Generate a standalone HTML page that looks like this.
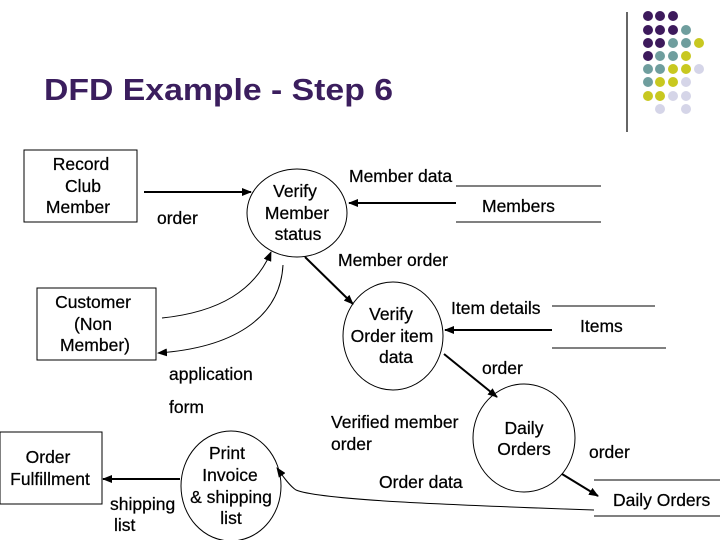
<!DOCTYPE html>
<html><head><style>
body{margin:0;background:#fff;}
svg{display:block;font-family:"Liberation Sans",Arial,sans-serif;}
text{font-size:17.5px;fill:#000;stroke:#000;stroke-width:0.25;}
</style></head><body>
<svg width="720" height="540" viewBox="0 0 720 540" xmlns="http://www.w3.org/2000/svg">
<defs><marker id="a" markerWidth="10" markerHeight="8" refX="9" refY="4" orient="auto" markerUnits="userSpaceOnUse"><path d="M0,0 L10,4 L0,8 Z" fill="#000"/></marker></defs>
<text x="44" y="100" textLength="349" lengthAdjust="spacingAndGlyphs" style="font-size:31px;font-weight:bold;fill:#3b1e5e;stroke:none">DFD Example - Step 6</text>
<line x1="627" y1="12" x2="627" y2="132" stroke="#000" stroke-width="1.2"/>
<g>
<circle cx="648" cy="16" r="5" fill="#3d1a5c"/><circle cx="660" cy="16" r="5" fill="#3d1a5c"/><circle cx="673" cy="16" r="5" fill="#3d1a5c"/>
<circle cx="648" cy="30" r="5" fill="#3d1a5c"/><circle cx="660" cy="30" r="5" fill="#3d1a5c"/><circle cx="673" cy="30" r="5" fill="#3d1a5c"/><circle cx="686" cy="30" r="5" fill="#6f9e9e"/>
<circle cx="648" cy="43" r="5" fill="#3d1a5c"/><circle cx="660" cy="43" r="5" fill="#3d1a5c"/><circle cx="673" cy="43" r="5" fill="#6f9e9e"/><circle cx="686" cy="43" r="5" fill="#6f9e9e"/><circle cx="699" cy="43" r="5" fill="#c8c820"/>
<circle cx="648" cy="56" r="5" fill="#3d1a5c"/><circle cx="660" cy="56" r="5" fill="#6f9e9e"/><circle cx="673" cy="56" r="5" fill="#6f9e9e"/><circle cx="686" cy="56" r="5" fill="#c8c820"/>
<circle cx="648" cy="69" r="5" fill="#6f9e9e"/><circle cx="660" cy="69" r="5" fill="#6f9e9e"/><circle cx="673" cy="69" r="5" fill="#c8c820"/><circle cx="686" cy="69" r="5" fill="#c8c820"/><circle cx="699" cy="69" r="5" fill="#d5d5e8"/>
<circle cx="648" cy="82" r="5" fill="#6f9e9e"/><circle cx="660" cy="82" r="5" fill="#c8c820"/><circle cx="673" cy="82" r="5" fill="#c8c820"/><circle cx="686" cy="82" r="5" fill="#d5d5e8"/>
<circle cx="648" cy="96" r="5" fill="#c8c820"/><circle cx="660" cy="96" r="5" fill="#c8c820"/><circle cx="673" cy="96" r="5" fill="#d5d5e8"/><circle cx="686" cy="96" r="5" fill="#d5d5e8"/>
<circle cx="660" cy="109" r="5" fill="#d5d5e8"/><circle cx="686" cy="109" r="5" fill="#d5d5e8"/>
</g>
<g fill="none" stroke="#000" stroke-width="1">
<rect x="24" y="150" width="113" height="72"/>
<rect x="37" y="288" width="119" height="72"/>
<rect x="0" y="432" width="102" height="72"/>
<ellipse cx="297" cy="213" rx="50" ry="44"/>
<ellipse cx="393" cy="336" rx="50" ry="54"/>
<ellipse cx="524" cy="438" rx="51" ry="54"/>
<ellipse cx="231" cy="486" rx="50" ry="55"/>
<line x1="456" y1="186" x2="601" y2="186"/><line x1="456" y1="222" x2="601" y2="222"/>
<line x1="552" y1="306" x2="655" y2="306"/><line x1="552" y1="348" x2="666" y2="348"/>
<line x1="594" y1="480" x2="720" y2="480"/><line x1="594" y1="516" x2="720" y2="516"/>
</g>
<g fill="none" stroke="#000" stroke-width="2" marker-end="url(#a)">
<line x1="144" y1="192" x2="251" y2="192"/>
<line x1="456" y1="203" x2="349" y2="203"/>
<line x1="305" y1="257" x2="353" y2="304"/>
<line x1="552" y1="330" x2="445" y2="330"/>
<line x1="444" y1="354" x2="497" y2="397"/>
<line x1="562" y1="474" x2="598" y2="496"/>
<line x1="180" y1="479" x2="103" y2="479"/>
</g>
<g fill="none" stroke="#000" stroke-width="1" marker-end="url(#a)">
<path d="M162,318 C220,312 255,290 271,252"/>
<path d="M283,265 C280,320 230,348 158,353"/>
<path d="M594,510 C450,505 320,500 296,490 C290,486 284,478 277,468"/>
</g>
<g text-anchor="middle">
<text x="81" y="170">Record</text><text x="83" y="192">Club</text><text x="78" y="213">Member</text>
<text x="93" y="308">Customer</text><text x="93" y="330">(Non</text><text x="95" y="351">Member)</text>
<text x="48" y="463">Order</text><text x="50" y="485">Fulfillment</text>
<text x="295" y="197">Verify</text><text x="297" y="219">Member</text><text x="298" y="240">status</text>
<text x="391" y="320">Verify</text><text x="392" y="342">Order item</text><text x="396" y="363">data</text>
<text x="524" y="434">Daily</text><text x="524" y="455">Orders</text>
<text x="227" y="459">Print</text><text x="230" y="481">Invoice</text><text x="231" y="503">&amp; shipping</text><text x="231" y="524">list</text>
</g>
<text x="157" y="224">order</text>
<text x="349" y="182">Member data</text>
<text x="482" y="212">Members</text>
<text x="338" y="266">Member order</text>
<text x="451" y="314">Item details</text>
<text x="580" y="332">Items</text>
<text x="482" y="374">order</text>
<text x="169" y="380">application</text>
<text x="169" y="413">form</text>
<text x="331" y="428">Verified member</text>
<text x="331" y="450">order</text>
<text x="379" y="488">Order data</text>
<text x="589" y="458">order</text>
<text x="613" y="506">Daily Orders</text>
<text x="110" y="510">shipping</text>
<text x="114" y="531">list</text>
</svg>
</body></html>
